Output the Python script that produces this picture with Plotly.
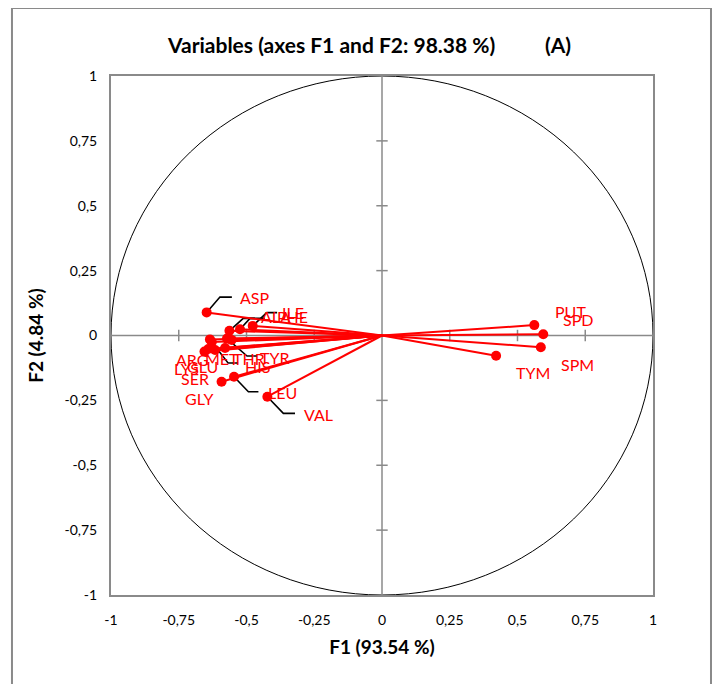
import plotly.graph_objects as go

# ---- data (PCA loadings on F1/F2) ----
variables = ["PUT", "SPD", "SPM", "TYM", "ASP", "ILE", "PHE", "ALA", "MET", "THR",
             "TYR", "ARG", "HIS", "GLU", "LYS", "SER", "GLY", "LEU", "VAL"]
f1 = [0.562, 0.595, 0.586, 0.421, -0.647, -0.477, -0.524, -0.563, -0.628, -0.572,
      -0.555, -0.635, -0.579, -0.616, -0.641, -0.655, -0.592, -0.546, -0.423]
f2 = [0.040, 0.005, -0.045, -0.078, 0.089, 0.037, 0.024, 0.018, -0.025, -0.012,
      -0.017, -0.015, -0.048, -0.056, -0.052, -0.062, -0.178, -0.159, -0.236]

tick_vals = [-1, -0.75, -0.5, -0.25, 0, 0.25, 0.5, 0.75, 1]
tick_text = ["-1", "-0,75", "-0,5", "-0,25", "0", "0,25", "0,5", "0,75", "1"]

# ---- label placement (layout, not data) ----
label_pos = {
    "PUT": (0.694, 0.091), "SPD": (0.723, 0.060), "SPM": (0.723, -0.110),
    "TYM": (0.557, -0.141), "ASP": (-0.469, 0.145), "ILE": (-0.328, 0.087),
    "ALA": (-0.391, 0.075), "PHE": (-0.332, 0.075), "ARG": (-0.701, -0.094),
    "MET": (-0.590, -0.087), "THR": (-0.491, -0.087), "TYR": (-0.395, -0.083),
    "HIS": (-0.458, -0.121), "LYS": (-0.723, -0.129), "GLU": (-0.661, -0.121),
    "SER": (-0.690, -0.164), "GLY": (-0.675, -0.241), "LEU": (-0.369, -0.218),
    "VAL": (-0.236, -0.303),
}
leaders = {  # elbow, end
    "ASP": ((-0.598, 0.148), (-0.554, 0.148)),
    "ALA": ((-0.512, 0.066), (-0.469, 0.066)),
    "PHE": ((-0.487, 0.066), (-0.432, 0.066)),
    "ILE": ((-0.425, 0.088), (-0.387, 0.088)),
    "MET": ((-0.568, -0.106), (-0.531, -0.106)),
    "THR": ((-0.498, -0.079), (-0.461, -0.079)),
    "LEU": ((-0.493, -0.217), (-0.456, -0.217)),
    "VAL": ((-0.364, -0.300), (-0.321, -0.300)),
}

RED = "#ff0000"
GRAY = "#8a8a8a"
FONT = "Lato"

fig = go.Figure()

# leader lines (black)
lx, ly = [], []
for name, (elb, end) in leaders.items():
    i = variables.index(name)
    lx += [f1[i], elb[0], end[0], None]
    ly += [f2[i], elb[1], end[1], None]
fig.add_trace(go.Scatter(x=lx, y=ly, mode="lines",
                         line=dict(color="black", width=1.6),
                         hoverinfo="skip", showlegend=False))

# vectors
vx, vy = [], []
for a, b in zip(f1, f2):
    vx += [0, a, None]
    vy += [0, b, None]
fig.add_trace(go.Scatter(x=vx, y=vy, mode="lines",
                         line=dict(color=RED, width=2),
                         hoverinfo="skip", showlegend=False))
fig.add_trace(go.Scatter(x=f1, y=f2, mode="markers", text=variables,
                         marker=dict(color=RED, size=10),
                         showlegend=False))

# labels
for name in variables:
    px, py = label_pos[name]
    fig.add_annotation(x=px, y=py, text=name, showarrow=False,
                       font=dict(family=FONT, size=16, color=RED))

shapes = []
# unit circle
shapes.append(dict(type="circle", xref="x", yref="y", x0=-1, y0=-1, x1=1, y1=1,
                   line=dict(color="black", width=1), layer="below"))
# axis lines through origin
shapes.append(dict(type="line", xref="x", yref="y", x0=-1, y0=0, x1=1, y1=0,
                   line=dict(color=GRAY, width=1.5), layer="below"))
shapes.append(dict(type="line", xref="x", yref="y", x0=0, y0=-1, x1=0, y1=1,
                   line=dict(color=GRAY, width=1.5), layer="below"))
# tick marks on the central axes
for t in tick_vals:
    if t in (-1, 0, 1):
        continue
    shapes.append(dict(type="line", xref="x", yref="y", x0=t, x1=t, y0=-0.022, y1=0.022,
                       line=dict(color=GRAY, width=1.5), layer="below"))
    shapes.append(dict(type="line", xref="x", yref="y", y0=t, y1=t, x0=-0.021, x1=0.021,
                       line=dict(color=GRAY, width=1.5), layer="below"))
# outer chart border
shapes.append(dict(type="rect", xref="paper", yref="paper",
                   x0=-0.1827, x1=1.107, y0=-0.19, y1=1.131,
                   line=dict(color=GRAY, width=2)))
fig.update_layout(shapes=shapes)

fig.add_annotation(xref="paper", yref="paper", x=0.406, y=1.0 + 31 / 519,
                   text="<b>Variables (axes F1 and F2: 98.38 %)</b>", showarrow=False,
                   font=dict(family=FONT, size=21, color="black"), xanchor="center", yanchor="middle")
fig.add_annotation(xref="paper", yref="paper", x=(558 - 111) / 542, y=1.0 + 31 / 519,
                   text="<b>(A)</b>", showarrow=False,
                   font=dict(family=FONT, size=21, color="black"), xanchor="center", yanchor="middle")

fig.update_layout(
    width=712, height=676,
    margin=dict(l=103, r=67, t=68, b=89),
    paper_bgcolor="white", plot_bgcolor="white",
    font=dict(family=FONT, size=14, color="black"),
    xaxis=dict(range=[-1, 1], tickvals=tick_vals, ticktext=tick_text,
               showgrid=False, zeroline=False, showline=True, mirror=True,
               linecolor=GRAY, linewidth=2, ticks="", ticklabelstandoff=11,
               title=dict(text="<b>F1 (93.54 %)</b>", font=dict(size=19), standoff=14)),
    yaxis=dict(range=[-1, 1], tickvals=tick_vals, ticktext=tick_text,
               showgrid=False, zeroline=False, showline=True, mirror=True,
               linecolor=GRAY, linewidth=2, ticks="", ticklabelstandoff=9,
               title=dict(text="<b>F2 (4.84 %)</b>", font=dict(size=19), standoff=16)),
)

fig.write_html("out.html")
